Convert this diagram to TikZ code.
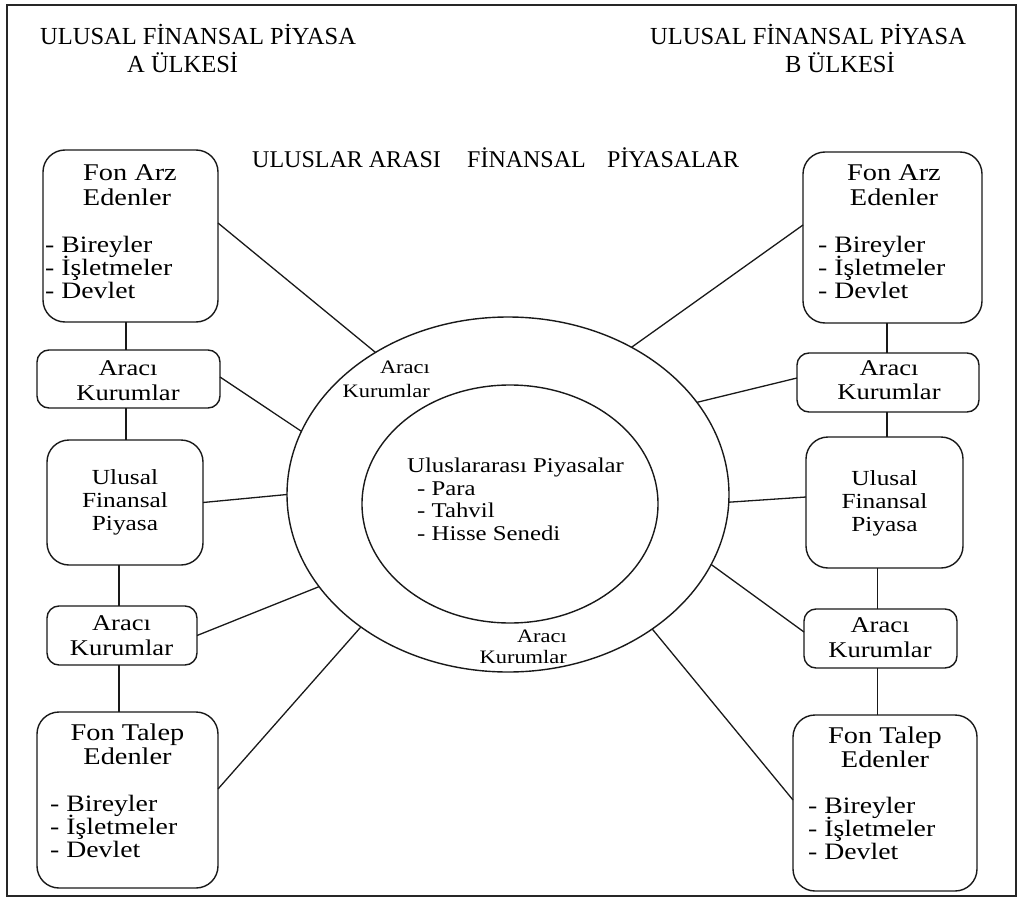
\documentclass[tikz,border=0pt]{standalone}
\usepackage{fontspec}
\setmainfont{Liberation Serif}
\newfontfamily\boxfont[FakeStretch=1.18]{Liberation Serif}
\usetikzlibrary{shapes.geometric,calc}

\begin{document}
\begin{tikzpicture}[x=1pt,y=-1pt,
  frame/.style={draw=black!85, line width=2pt},
  panel/.style={draw=black!90, line width=1.4pt, rounded corners=22pt, inner sep=0pt, outer sep=0pt},
  smallpanel/.style={panel, rounded corners=12pt},
  link/.style={draw=black!90, line width=1.3pt},
  ring/.style={ellipse, draw=black!90, line width=1.4pt, inner sep=0pt, outer sep=0pt},
  title/.style={font=\fontsize{24.5}{28}\selectfont, inner sep=0pt, anchor=base west},
  head/.style={font=\boxfont\fontsize{24}{28}\selectfont, inner sep=0pt, anchor=base},
  item/.style={font=\boxfont\fontsize{23.5}{28}\selectfont, inner sep=0pt, anchor=base west},
  midhead/.style={font=\boxfont\fontsize{21.5}{26}\selectfont, inner sep=0pt, anchor=base},
  agent/.style={font=\boxfont\fontsize{22.5}{26}\selectfont, inner sep=0pt, anchor=base},
  core/.style={font=\boxfont\fontsize{21}{26}\selectfont, inner sep=0pt, anchor=base west},
  ringlabel/.style={font=\boxfont\fontsize{19}{24}\selectfont, inner sep=0pt, anchor=base east}
]
\useasboundingbox (0,0) rectangle (1023,899);
\draw[frame] (7,5) rectangle (1016,896);

% headings
\node[title] (tA1) at (40,45) {ULUSAL FİNANSAL PİYASA};
\node[title] (tA2) at (127,73) {A ÜLKESİ};
\node[title] (tB1) at (650,45) {ULUSAL FİNANSAL PİYASA};
\node[title] (tB2) at (785,73) {B ÜLKESİ};
\node[title, font=\fontsize{24}{28}\selectfont] (tM) at (252,167)
  {\makebox[215pt][l]{ULUSLAR ARASI}\makebox[140pt][l]{FİNANSAL}PİYASALAR};

% central rings
\node[ring, minimum width=442pt, minimum height=355pt] (E) at (508,494.5) {};
\node[ring, minimum width=296pt, minimum height=238pt] (I) at (510,504) {};
\node[core] (c1) at (407,472) {Uluslararası Piyasalar};
\node[core] (c2) at (417,495) {- Para};
\node[core] (c3) at (417,517) {- Tahvil};
\node[core] (c4) at (417,540) {- Hisse Senedi};
\node[ringlabel] (r1) at (430,373) {Aracı};
\node[ringlabel] (r2) at (430,397) {Kurumlar};
\node[ringlabel] (r3) at (567,642) {Aracı};
\node[ringlabel] (r4) at (567,663) {Kurumlar};

% left column
\node[panel, minimum width=175pt, minimum height=172pt] (LA) at (130.5,236) {};
\node[smallpanel, minimum width=183pt, minimum height=58pt] (LK1) at (128.5,379) {};
\node[panel, minimum width=156pt, minimum height=125pt] (LU) at (125,502.5) {};
\node[smallpanel, minimum width=150pt, minimum height=59pt] (LK2) at (122,635.5) {};
\node[panel, minimum width=181pt, minimum height=176pt] (LT) at (127.5,800) {};

\node[head] (la1) at (130,180) {Fon Arz};
\node[head] (la2) at (127,205) {Edenler};
\node[item] (la3) at (45,252) {- Bireyler};
\node[item] (la4) at (45,275) {- İşletmeler};
\node[item] (la5) at (45,298) {- Devlet};

\node[agent] (lk1a) at (128,375) {Aracı};
\node[agent] (lk1b) at (128,400) {Kurumlar};

\node[midhead] (lu1) at (125,484) {Ulusal};
\node[midhead] (lu2) at (125,507) {Finansal};
\node[midhead] (lu3) at (125,530) {Piyasa};

\node[agent] (lk2a) at (121.5,630) {Aracı};
\node[agent] (lk2b) at (121.5,655) {Kurumlar};

\node[head] (lt1) at (127.5,740) {Fon Talep};
\node[head] (lt2) at (127.5,764) {Edenler};
\node[item] (lt3) at (50,811) {- Bireyler};
\node[item] (lt4) at (50,834) {- İşletmeler};
\node[item] (lt5) at (50,857) {- Devlet};

% right column
\node[panel, minimum width=179pt, minimum height=171pt] (RA) at (892.5,237.5) {};
\node[smallpanel, minimum width=182pt, minimum height=59pt] (RK1) at (888,382.5) {};
\node[panel, minimum width=157pt, minimum height=131pt] (RU) at (884.5,502.5) {};
\node[smallpanel, minimum width=153pt, minimum height=59pt] (RK2) at (880.5,638.5) {};
\node[panel, minimum width=184pt, minimum height=176pt] (RT) at (885,803) {};

\node[head] (ra1) at (894,180) {Fon Arz};
\node[head] (ra2) at (894,205) {Edenler};
\node[item] (ra3) at (818,252) {- Bireyler};
\node[item] (ra4) at (818,275) {- İşletmeler};
\node[item] (ra5) at (818,298) {- Devlet};

\node[agent] (rk1a) at (889,375) {Aracı};
\node[agent] (rk1b) at (889,399) {Kurumlar};

\node[midhead] (ru1) at (884.5,485) {Ulusal};
\node[midhead] (ru2) at (884.5,508) {Finansal};
\node[midhead] (ru3) at (884.5,531) {Piyasa};

\node[agent] (rk2a) at (880,632) {Aracı};
\node[agent] (rk2b) at (880,657) {Kurumlar};

\node[head] (rt1) at (885,743) {Fon Talep};
\node[head] (rt2) at (885,767) {Edenler};
\node[item] (rt3) at (808,813) {- Bireyler};
\node[item] (rt4) at (808,836) {- İşletmeler};
\node[item] (rt5) at (808,859) {- Devlet};

% vertical chains
\coordinate (lx1) at (126,0);
\coordinate (lx2) at (119,0);
\coordinate (rx1) at (887,0);
\coordinate (rx2) at (877.5,0);
\draw[link] (LA.south -| lx1) -- (LK1.north -| lx1);
\draw[link] (LK1.south -| lx1) -- (LU.north -| lx1);
\draw[link] (LU.south -| lx2) -- (LK2.north -| lx2);
\draw[link] (LK2.south -| lx2) -- (LT.north -| lx2);
\draw[link] (RA.south -| rx1) -- (RK1.north -| rx1);
\draw[link] (RK1.south -| rx1) -- (RU.north -| rx1);
\draw[link] (RU.south -| rx2) -- (RK2.north -| rx2);
\draw[link] (RK2.south -| rx2) -- (RT.north -| rx2);

% spokes to the outer ring
\draw[link] ($(LA.east)+(0,-13)$) -- (E.133.7);
\draw[link] ($(LK1.east)+(0,-2)$) -- (E.163.1);
\draw[link] (LU.east) -- (E.180);
\draw[link] (LK2.east) -- (E.206);
\draw[link] ($(LT.east)+(0,-11)$) -- (E.222.5);
\draw[link] ($(RA.west)+(0,-12.5)$) -- (E.50.1);
\draw[link] ($(RK1.west)+(0,-4.5)$) -- (E.26.1);
\draw[link] ($(RU.west)+(0,-5.5)$) -- (E.-2.7);
\draw[link] ($(RK2.west)+(0,-6.5)$) -- (E.-19.6);
\draw[link] ($(RT.west)+(0,-3)$) -- (E.-43.7);
\end{tikzpicture}
\end{document}
